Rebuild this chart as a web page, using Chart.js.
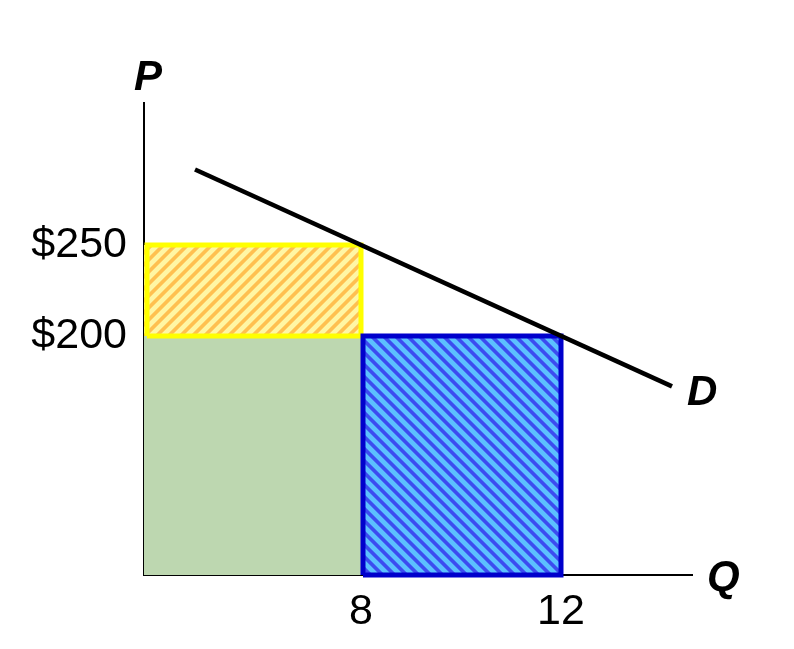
<!DOCTYPE html>
<html>
<head>
<meta charset="utf-8">
<script src="https://cdn.jsdelivr.net/npm/chart.js@4"></script>
<style>
  html, body { margin:0; padding:0; background:#fff; }
  canvas { display:block; }
</style>
</head>
<body>
<canvas id="chart" width="794" height="649"></canvas>
<script>
// values (schematic, so the axes don't start at 0)
const QTY = [8, 12];            // quantity before / after
const PRICE = [250, 200];       // price before / after
const X_TICKS = ["8", "12"];
const Y_TICKS = ["$250", "$200"];
const DEMAND_Q = [4.68, 14.22];
const DEMAND_P = [291.5, 172.3];
const Q_RANGE = [3.66, 14.62];
const P_RANGE = [68.7, 328];

const FONT = "'Liberation Sans', Arial, sans-serif";

// diagonal hatch tile, built pixel by pixel so it repeats without seams
function hatch(bg, fg, dir){
  const n = 12, c = document.createElement("canvas");
  c.width = n; c.height = n;
  const g = c.getContext("2d");
  const img = g.createImageData(n, n);
  for(let y=0; y<n; y++) for(let x=0; x<n; x++){
    const f = (((dir > 0 ? x + y : x - y) % n) + n) % n;
    let a = 0.5 + 0.5*Math.cos(2*Math.PI*(f + 0.5)/n);
    a = Math.min(1, Math.max(0, (a - 0.42)/0.35));
    const i = (y*n + x)*4;
    for(let k=0; k<3; k++) img.data[i+k] = Math.round(bg[k]*(1-a) + fg[k]*a);
    img.data[i+3] = 255;
  }
  g.putImageData(img, 0, 0);
  return g.createPattern(c, "repeat");
}

const ctx = document.getElementById("chart").getContext("2d");
const yellowFill = hatch([255,246,164], [255,192,80], 1);
const blueFill = hatch([92,192,255], [60,76,240], -1);

const pts = (xs, ys) => xs.map((x,i)=>({x, y:ys[i]}));
const q0 = Q_RANGE[0], p0 = P_RANGE[0];

const labels = {
  id:"labels",
  afterDraw(chart){
    const g = chart.ctx, a = chart.chartArea;
    g.save();
    g.fillStyle = "#000";
    g.font = `italic bold 42px ${FONT}`;
    g.textBaseline = "alphabetic";
    g.textAlign = "center"; g.fillText("P", a.left + 4, a.top - 13);
    g.textAlign = "left";
    g.fillText("Q", a.right + 15, a.bottom + 15);
    g.fillText("D", a.right - 5, a.top + 302);
    g.restore();
  }
};

new Chart(ctx, {
  type:"scatter",
  data:{
    datasets:[
      { label:"revenue kept", data: pts([q0, QTY[0]], [PRICE[1], PRICE[1]]), showLine:true,
        fill:"start", backgroundColor:"#bdd7b0", borderWidth:0, pointRadius:0, order:6 },
      { label:"price effect", data: pts([q0, QTY[0]], [PRICE[0], PRICE[0]]), showLine:true,
        fill:{ value: PRICE[1] }, backgroundColor:yellowFill, borderWidth:0, pointRadius:0, order:5 },
      { label:"price effect border", data: pts([q0+0.06, q0+0.06, QTY[0], QTY[0], q0+0.06], [PRICE[1], PRICE[0], PRICE[0], PRICE[1], PRICE[1]]),
        showLine:true, fill:false, borderColor:"#ffff00", borderWidth:5, pointRadius:0, clip:false, order:4 },
      { label:"quantity effect", data: pts([QTY[0], QTY[1]], [PRICE[1], PRICE[1]]), showLine:true,
        fill:"start", backgroundColor:blueFill, borderWidth:0, pointRadius:0, order:3 },
      { label:"quantity effect border", data: pts([QTY[0]+0.04, QTY[0]+0.04, QTY[1], QTY[1], QTY[0]+0.04], [p0, PRICE[1], PRICE[1], p0, p0]),
        showLine:true, fill:false, borderColor:"#0000cc", borderWidth:5, pointRadius:0, clip:false, order:2 },
      { label:"D", data: pts(DEMAND_Q, DEMAND_P), showLine:true, fill:false,
        borderColor:"#000", borderWidth:4.5, pointRadius:0, clip:false, order:1 }
    ]
  },
  options:{
    responsive:false,
    animation:false,
    layout:{ padding:{ top:103, right:102, left:0, bottom:0 } },
    plugins:{ legend:{ display:false }, tooltip:{ enabled:false } },
    scales:{
      x:{
        type:"linear", min:Q_RANGE[0], max:Q_RANGE[1],
        grid:{ display:false, drawTicks:false },
        border:{ display:true, color:"#000", width:2 },
        afterBuildTicks: s => { s.ticks = QTY.map(v=>({value:v})); },
        afterFit: s => { s.height = 649 - 575; },
        ticks:{ autoSkip:false, maxRotation:0, padding:11, color:"#000",
          font:{ family:FONT, size:43 },
          callback: v => X_TICKS[QTY.indexOf(v)] }
      },
      y:{
        type:"linear", min:P_RANGE[0], max:P_RANGE[1],
        grid:{ display:false, drawTicks:false },
        border:{ display:true, color:"#000", width:2 },
        afterBuildTicks: s => { s.ticks = PRICE.map(v=>({value:v})); },
        afterFit: s => { s.width = 144; },
        ticks:{ autoSkip:false, padding:17, color:"#000",
          font:{ family:FONT, size:43 },
          callback: v => Y_TICKS[PRICE.indexOf(v)] }
      }
    }
  },
  plugins:[labels]
});
</script>
</body>
</html>
